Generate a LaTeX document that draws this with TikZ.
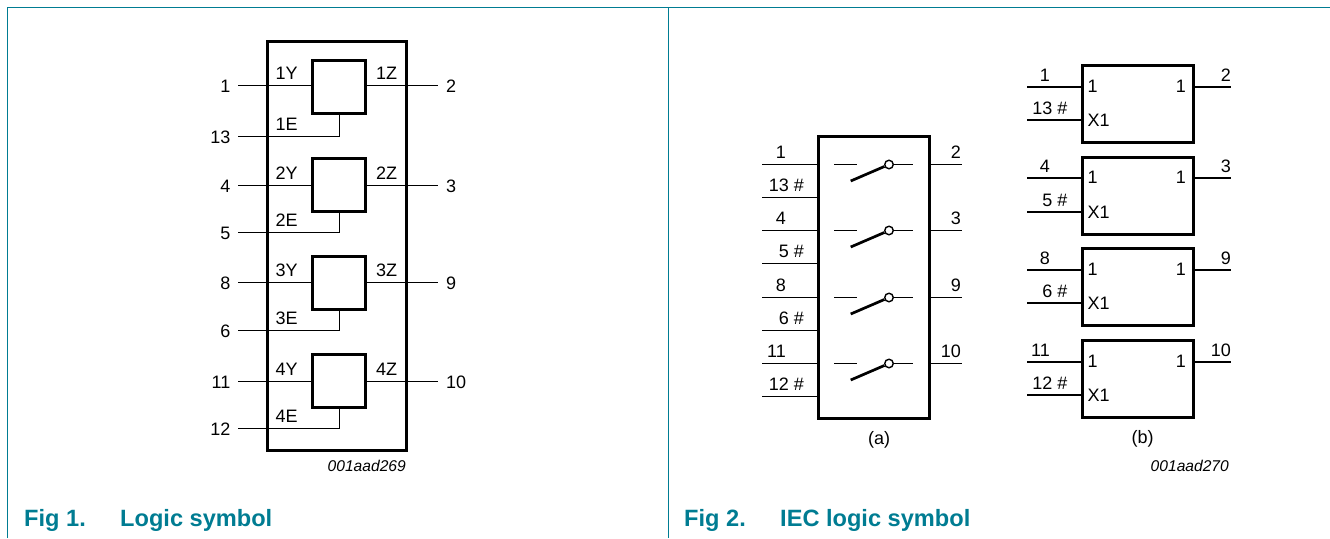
\documentclass[tikz,border=0pt]{standalone}
\usepackage{fontspec}
\setmainfont{Liberation Sans}
\definecolor{nxp}{HTML}{007C92}
\tikzset{
  x=1pt,y=-1pt,
  thick box/.style={draw=black,line width=3pt,line join=miter,inner sep=0pt},
  wire/.style={draw=black,line width=1.1pt},
  lbl/.style={font=\fontsize{18}{20}\selectfont,inner sep=0pt,text=black},
  part/.style={font=\itshape\fontsize{15.6}{17}\selectfont,inner sep=0pt,text=black},
  captext/.style={font=\bfseries\fontsize{23.6}{26}\selectfont,inner sep=0pt,text=nxp,anchor=base west},
  frame/.style={draw=nxp,line width=1.5pt}
}
\newcommand{\rectnode}[5]{\path[thick box] (#2,#3) rectangle (#4,#5);
  \node[inner sep=0pt,minimum width=#4pt-#2pt,minimum height=#5pt-#3pt] (#1) at ({(#2+#4)/2},{(#3+#5)/2}) {};}
\begin{document}
\begin{tikzpicture}
\useasboundingbox (0,0) rectangle (1330,538);
\coordinate (fa) at (7.5,538); \coordinate (fb) at (7.5,7.5); \coordinate (fc) at (1330,7.5);
\coordinate (fd) at (668.5,7.5); \coordinate (fe) at (668.5,538);
\draw[frame] (fa) -- (fb) -- (fc);
\draw[frame] (fd) -- (fe);
% Fig 1
\rectnode{outer}{267.5}{41}{406.5}{450}
\foreach \n/\ty/\ya/\yb/\lna/\lnb/\lnc in {1/60/85.5/136.5/1/13/2,2/158/185.5/232.5/4/5/3,3/256/282.5/330.5/8/6/9,4/354/381.5/428.5/11/12/10}{
  \pgfmathsetmacro{\by}{\ty+53}
  \rectnode{b\n}{312}{\ty}{365}{\by}
  \node[lbl,anchor=base east] (la\n) at (230.5,\ya+7) {\lna};
  \node[lbl,anchor=base east] (lb\n) at (230.5,\yb+7) {\lnb};
  \node[lbl,anchor=base west] (lc\n) at (446,\ya+7) {\lnc};
  \coordinate (wa\n) at (238,\ya); \coordinate (wb\n) at (238,\yb);
  \coordinate (wc\n) at (438,\ya); \coordinate (wd\n) at (339.5,\yb);
  \coordinate (ea\n) at (312,\ya); \coordinate (ec\n) at (365,\ya); \coordinate (ed\n) at (339.5,\by);
  \draw[wire] (wa\n) -- (ea\n);
  \draw[wire] (ec\n) -- (wc\n);
  \draw[wire] (wb\n) -- (wd\n) -- (ed\n);
  \node[lbl,anchor=base west] (ty\n) at (275.5,\ya-6) {\n Y};
  \node[lbl,anchor=base west] (tz\n) at (376,\ya-6) {\n Z};
  \node[lbl,anchor=base west] (te\n) at (275.5,\yb-6) {\n E};
}
\node[part,anchor=base east] (p1) at (406,471.5) {001aad269};
\node[captext] (c1a) at (24,526.5) {Fig 1.};
\node[captext] (c1b) at (120,526.5) {Logic symbol};
% Fig 2a
\rectnode{sw}{818.5}{136}{929}{418}
\foreach \n/\ya/\yb/\lna/\lnb/\lnc in {1/164.5/197.5/1/13 \#/2,2/230.5/263.5/4/5 \#/3,3/297.5/330.5/8/6 \#/9,4/363.5/396.5/11/12 \#/10}{
  \coordinate (swa\n) at (762,\ya); \coordinate (swae\n) at (818,\ya);
  \coordinate (swb\n) at (762,\yb); \coordinate (swbe\n) at (818,\yb);
  \coordinate (swc\n) at (929,\ya); \coordinate (swce\n) at (962,\ya);
  \draw[wire] (swa\n) -- (swae\n);
  \draw[wire] (swb\n) -- (swbe\n);
  \draw[wire] (swc\n) -- (swce\n);
  \node[lbl,anchor=base east] (sla\n) at (786,\ya-6.5) {\lna};
  \node[lbl,anchor=base east] (slb\n) at (804,\yb-6.5) {\lnb};
  \node[lbl,anchor=base east] (slc\n) at (961,\ya-6.5) {\lnc};
  \coordinate (d1\n) at (834,\ya); \coordinate (d2\n) at (856.5,\ya);
  \coordinate (d3\n) at (913,\ya); \coordinate (lv\n) at (850.7,\ya+16.5);
  \draw[wire] (d1\n) -- (d2\n);
  \node[circle,draw=black,line width=1.4pt,fill=white,minimum size=8.5pt,inner sep=0pt] (o\n) at (889,\ya) {};
  \draw[wire] (o\n) -- (d3\n);
  \draw[black,line width=2.7pt] (lv\n) -- (o\n);
}
\node[lbl,anchor=base] (sa) at (879,444) {(a)};
% Fig 2b
\foreach \n/\ty/\ya/\yb/\lna/\lnb/\lnc in {1/65/87/120/1/13 \#/2,2/157/178/212/4/5 \#/3,3/248/270/303/8/6 \#/9,4/340/362/395/11/12 \#/10}{
  \pgfmathsetmacro{\by}{\ty+77}
  \rectnode{g\n}{1082.5}{\ty}{1193.5}{\by}
  \coordinate (ga\n) at (1027,\ya); \coordinate (gae\n) at (1082,\ya);
  \coordinate (gb\n) at (1027,\yb); \coordinate (gbe\n) at (1082,\yb);
  \coordinate (gc\n) at (1194,\ya); \coordinate (gce\n) at (1231,\ya);
  \draw[wire] (ga\n) -- (gae\n);
  \draw[wire] (gb\n) -- (gbe\n);
  \draw[wire] (gc\n) -- (gce\n);
  \node[lbl,anchor=base east] (gla\n) at (1050,\ya-6) {\lna};
  \node[lbl,anchor=base east] (glb\n) at (1067.5,\yb-5.5) {\lnb};
  \node[lbl,anchor=base east] (glc\n) at (1231,\ya-6) {\lnc};
  \node[lbl,anchor=base west] (gi\n) at (1087.5,\ya+5.5) {1};
  \node[lbl,anchor=base west] (gx\n) at (1087.5,\yb+6) {X1};
  \node[lbl,anchor=base east] (go\n) at (1186,\ya+5.5) {1};
}
\node[lbl,anchor=base] (sb) at (1142.5,443) {(b)};
\node[part,anchor=base east] (p2) at (1229,471.5) {001aad270};
\node[captext] (c2a) at (684,526.5) {Fig 2.};
\node[captext] (c2b) at (780,526.5) {IEC logic symbol};
\end{tikzpicture}
\end{document}
